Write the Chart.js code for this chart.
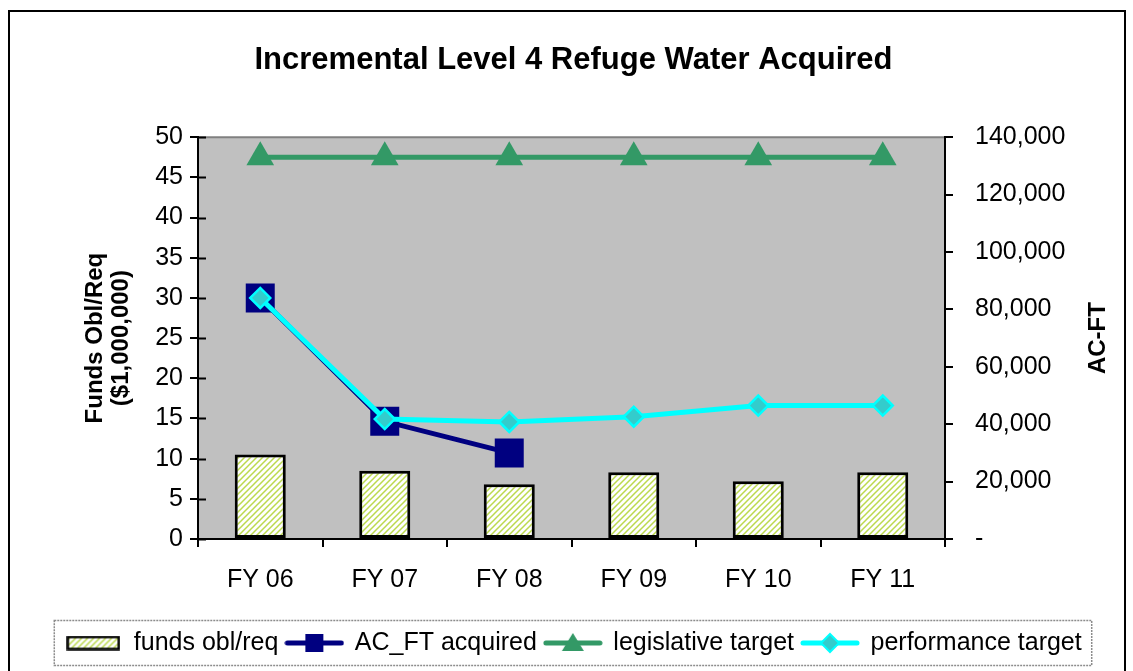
<!DOCTYPE html>
<html>
<head>
<meta charset="utf-8">
<title>Incremental Level 4 Refuge Water Acquired</title>
<script src="https://cdn.jsdelivr.net/npm/chart.js@4.4.1/dist/chart.umd.min.js"></script>
<style>
    body { margin: 0; background: #fff; }
    canvas { display: block; }
</style>
</head>
<body>
<canvas id="refuge-chart" width="1133" height="671"></canvas>
<script>
const years = ["FY 06", "FY 07", "FY 08", "FY 09", "FY 10", "FY 11"];
const fundsOblReq = [10.5, 8.5, 6.8, 8.3, 7.2, 8.3];
const acFtAcquired = [84000, 41000, 30000, null, null, null];
const legislativeTarget = [133000, 133000, 133000, 133000, 133000, 133000];
const performanceTarget = [84000, 41800, 40800, 42600, 46500, 46500];

const fontFamily = "'Liberation Sans', Arial, sans-serif";
Chart.defaults.font.family = fontFamily;
Chart.defaults.color = "#000";

function makeCanvas(w, h) {
    const c = document.createElement("canvas");
    c.width = w;
    c.height = h;
    return c;
}

// hatch pattern for the funds bars
const hatchTile = makeCanvas(6, 6);
const ht = hatchTile.getContext("2d");
ht.fillStyle = "#fff";
ht.fillRect(0, 0, 6, 6);
ht.strokeStyle = "#bcd94e";
ht.lineWidth = 1.5;
ht.beginPath();
ht.moveTo(-1, 7); ht.lineTo(7, -1);
ht.moveTo(-1, 1); ht.lineTo(1, -1);
ht.moveTo(5, 7); ht.lineTo(7, 5);
ht.stroke();
const context = document.getElementById("refuge-chart").getContext("2d");
const hatch = context.createPattern(hatchTile, "repeat");

// legend icons
function barIcon() {
    const c = makeCanvas(54, 15);
    const g = c.getContext("2d");
    g.fillStyle = g.createPattern(hatchTile, "repeat");
    g.fillRect(1, 1, 52, 13);
    g.strokeStyle = "#000";
    g.lineWidth = 2.5;
    g.strokeRect(1.5, 1.5, 51, 12);
    return c;
}

function lineIcon(color, drawMarker) {
    const c = makeCanvas(60, 24);
    const g = c.getContext("2d");
    g.strokeStyle = color;
    g.lineWidth = 5;
    g.lineCap = "round";
    g.beginPath();
    g.moveTo(3, 12);
    g.lineTo(57, 12);
    g.stroke();
    drawMarker(g);
    return c;
}

const acIcon = lineIcon("#000080", g => {
    g.fillStyle = "#000080";
    g.fillRect(21, 3, 18, 18);
});
const legIcon = lineIcon("#339966", g => {
    g.fillStyle = "#339966";
    g.beginPath();
    g.moveTo(30, 2); g.lineTo(41, 20); g.lineTo(19, 20);
    g.closePath();
    g.fill();
});
const perfIcon = lineIcon("#00ffff", g => {
    g.fillStyle = "#33cccc";
    g.strokeStyle = "#00ffff";
    g.lineWidth = 2;
    g.beginPath();
    g.moveTo(30, 3); g.lineTo(39, 12); g.lineTo(30, 21); g.lineTo(21, 12);
    g.closePath();
    g.fill();
    g.stroke();
});
const legendIcons = [barIcon(), acIcon, legIcon, perfIcon];

const frame = {
    id: "frame",
    beforeDraw(chart) {
        const { ctx, chartArea } = chart;
        ctx.save();
        ctx.fillStyle = "#fff";
        ctx.fillRect(0, 0, chart.width, chart.height);
        ctx.fillStyle = "#c0c0c0";
        ctx.fillRect(chartArea.left, chartArea.top, chartArea.right - chartArea.left, chartArea.bottom - chartArea.top);
        ctx.strokeStyle = "#808080";
        ctx.lineWidth = 2;
        ctx.beginPath();
        ctx.moveTo(chartArea.left, chartArea.top);
        ctx.lineTo(chartArea.right, chartArea.top);
        ctx.stroke();
        ctx.restore();
    },
    afterDraw(chart) {
        const { ctx, chartArea } = chart;
        ctx.save();

        // left axis tick marks cross into the plot too
        const yScale = chart.scales.y;
        ctx.strokeStyle = "#000";
        ctx.lineWidth = 2;
        ctx.beginPath();
        yScale.ticks.forEach(t => {
            const py = Math.round(yScale.getPixelForValue(t.value)) + 0.5;
            ctx.moveTo(chartArea.left, py);
            ctx.lineTo(chartArea.left + 8, py);
        });
        ctx.stroke();

        // right axis title reads bottom to top
        ctx.fillStyle = "#000";
        ctx.font = "bold 24px " + fontFamily;
        ctx.textAlign = "center";
        ctx.textBaseline = "middle";
        ctx.translate(1098, (chartArea.top + chartArea.bottom) / 2);
        ctx.rotate(-Math.PI / 2);
        ctx.fillText("AC-FT", 0, 0);
        ctx.setTransform(1, 0, 0, 1, 0, 0);

        ctx.strokeStyle = "#000";
        ctx.lineWidth = 2;
        ctx.strokeRect(9, 11, 1116, 700);

        const boxes = chart.legend.legendHitBoxes;
        if (boxes.length) {
            const first = boxes[0];
            const last = boxes[boxes.length - 1];
            const left = first.left - 11;
            const right = last.left + last.width + 10;
            ctx.strokeStyle = "#8c8c8c";
            ctx.lineWidth = 1.5;
            ctx.setLineDash([2, 1]);
            ctx.strokeRect(left, chart.legend.top - 2, right - left, chart.legend.bottom - chart.legend.top + 2);
        }
        ctx.restore();
    }
};

new Chart(context, {
    type: "bar",
    data: {
        labels: years,
        datasets: [
            {
                type: "line",
                label: "performance target",
                data: performanceTarget,
                yAxisID: "y2",
                order: 1,
                borderColor: "#00ffff",
                borderWidth: 5,
                pointStyle: "rectRot",
                pointRadius: 10,
                pointBackgroundColor: "#33cccc",
                pointBorderColor: "#00ffff",
                pointBorderWidth: 2.5,
                tension: 0
            },
            {
                type: "line",
                label: "legislative target",
                data: legislativeTarget,
                yAxisID: "y2",
                order: 2,
                borderColor: "#339966",
                borderWidth: 5,
                pointStyle: "triangle",
                pointRadius: 16,
                pointBackgroundColor: "#339966",
                pointBorderWidth: 0,
                tension: 0
            },
            {
                type: "line",
                label: "AC_FT acquired",
                data: acFtAcquired,
                yAxisID: "y2",
                order: 3,
                borderColor: "#000080",
                borderWidth: 5,
                pointStyle: "rect",
                pointRadius: 20.5,
                pointBackgroundColor: "#000080",
                pointBorderWidth: 0,
                tension: 0
            },
            {
                label: "funds obl/req",
                data: fundsOblReq,
                yAxisID: "y",
                order: 4,
                backgroundColor: hatch,
                borderColor: "#000",
                borderWidth: 3,
                borderSkipped: false,
                categoryPercentage: 1,
                barPercentage: 0.41
            }
        ]
    },
    options: {
        responsive: false,
        animation: false,
        layout: { padding: { left: 14, right: 0, top: 0, bottom: 5.5 } },
        plugins: {
            tooltip: { enabled: false },
            title: {
                display: true,
                text: "Incremental Level 4 Refuge Water Acquired",
                color: "#000",
                font: { size: 31, weight: "bold", lineHeight: 1.2 },
                padding: { top: 42, bottom: 58 }
            },
            legend: {
                position: "bottom",
                onClick: null,
                labels: {
                    color: "#000",
                    font: { size: 25 },
                    padding: 8,
                    usePointStyle: true,
                    pointStyleWidth: 56,
                    generateLabels: () => {
                        const names = ["funds obl/req", "AC_FT acquired", "legislative target", "performance target"];
                        return names.map((text, i) => ({
                            text,
                            pointStyle: legendIcons[i],
                            fontColor: "#000",
                            lineWidth: 0,
                            strokeStyle: "rgba(0,0,0,0)",
                            fillStyle: "rgba(0,0,0,0)",
                            hidden: false,
                            datasetIndex: 3 - i
                        }));
                    }
                }
            }
        },
        scales: {
            x: {
                offset: true,
                grid: {
                    display: true,
                    drawOnChartArea: false,
                    drawTicks: true,
                    tickLength: 8,
                    color: "#000",
                    lineWidth: 2
                },
                border: { display: true, color: "#000", width: 2 },
                ticks: { font: { size: 25 }, color: "#000", padding: 18 },
                afterFit(scale) { scale.height = 83.5; }
            },
            y: {
                position: "left",
                min: 0,
                max: 50,
                ticks: { stepSize: 5, font: { size: 25 }, color: "#000", padding: 7 },
                grid: {
                    drawOnChartArea: false,
                    drawTicks: true,
                    tickLength: 8,
                    color: "#000",
                    lineWidth: 2
                },
                border: { display: true, color: "#000", width: 2 },
                title: {
                    display: true,
                    text: ["Funds Obl/Req", "($1,000,000)"],
                    color: "#000",
                    font: { size: 24, weight: "bold", lineHeight: 1.1 },
                    padding: { top: 68, bottom: 0 }
                },
                afterFit(scale) { scale.width = 184; }
            },
            y2: {
                position: "right",
                min: 0,
                max: 140000,
                ticks: {
                    stepSize: 20000,
                    font: { size: 25 },
                    color: "#000",
                    padding: 22,
                    callback: v => v === 0 ? "-" : v.toLocaleString("en-US")
                },
                grid: {
                    drawOnChartArea: false,
                    drawTicks: true,
                    tickLength: 8,
                    color: "#000",
                    lineWidth: 2
                },
                border: { display: true, color: "#000", width: 2 },
                afterFit(scale) { scale.width = 188; }
            }
        }
    },
    plugins: [frame]
});
</script>
</body>
</html>
